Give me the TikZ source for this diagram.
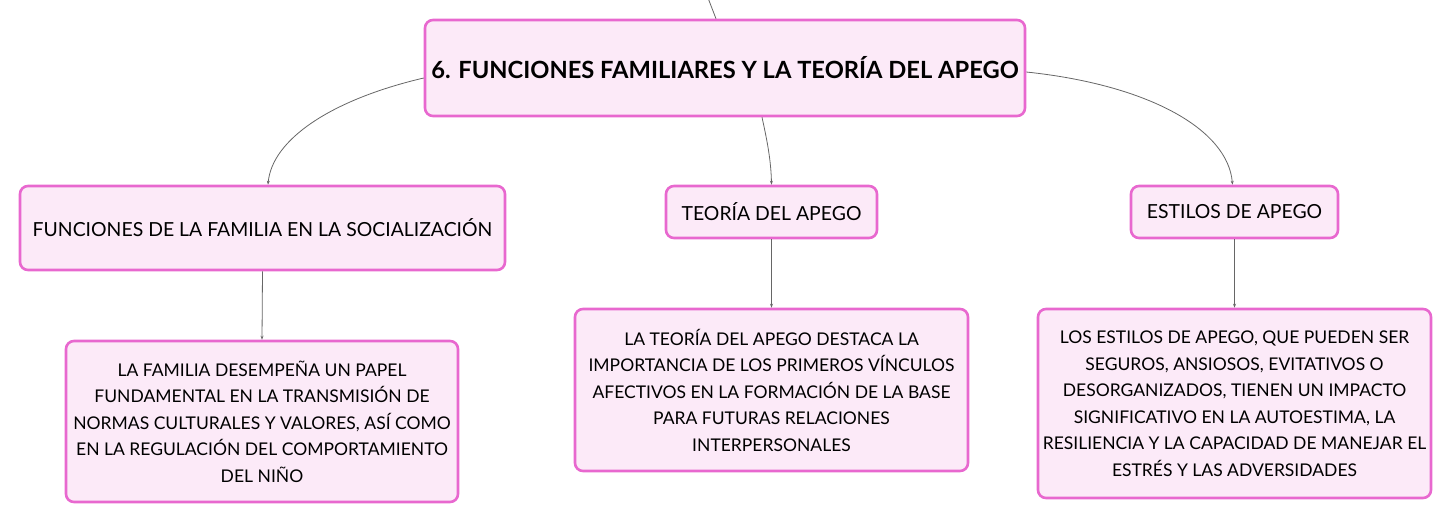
\documentclass[tikz,border=0pt]{standalone}
\usepackage{fontspec}
\setmainfont{Lato}
\usetikzlibrary{arrows.meta,calc}
\definecolor{boxborder}{HTML}{E868CF}
\definecolor{boxfill}{HTML}{FCEAF8}
\definecolor{linkgray}{HTML}{666666}
\tikzset{
  box/.style={draw=boxborder, fill=boxfill, line width=2.6pt, rounded corners=8pt, align=center, inner sep=0pt, font=\fontsize{17.5}{26.5}\selectfont},
  labelbox/.style={box, font=\fontsize{19.4}{24}\selectfont},
  titlebox/.style={box, font=\fontsize{23.7}{28}\selectfont\bfseries},
  link/.style={draw=linkgray, line width=0.8pt, -{Stealth[length=4pt,width=3pt]}},
  plainlink/.style={draw=linkgray, line width=0.8pt}
}
\begin{document}
\begin{tikzpicture}[x=1pt,y=-1pt]
\useasboundingbox (0,0) rectangle (1451,524);
\node[titlebox, minimum width=600pt, minimum height=96pt] (title) at (725,68) {6. FUNCIONES FAMILIARES Y LA TEORÍA DEL APEGO};
\node[labelbox, minimum width=485pt, minimum height=84pt] (func) at (262.5,228) {FUNCIONES DE LA FAMILIA EN LA SOCIALIZACIÓN};
\node[labelbox, minimum width=211pt, minimum height=52pt] (teoria) at (771.5,212) {TEORÍA DEL APEGO};
\node[labelbox, minimum width=207pt, minimum height=52pt] (estilos) at (1234.5,212) {ESTILOS DE APEGO};
\node[box, minimum width=392pt, minimum height=161pt] (fam) at (262,421.5) {LA FAMILIA DESEMPEÑA UN PAPEL\\FUNDAMENTAL EN LA TRANSMISIÓN DE\\NORMAS CULTURALES Y VALORES, ASÍ COMO\\EN LA REGULACIÓN DEL COMPORTAMIENTO\\DEL NIÑO};
\node[box, minimum width=393pt, minimum height=162pt] (teo2) at (771.5,390) {LA TEORÍA DEL APEGO DESTACA LA\\IMPORTANCIA DE LOS PRIMEROS VÍNCULOS\\AFECTIVOS EN LA FORMACIÓN DE LA BASE\\PARA FUTURAS RELACIONES\\INTERPERSONALES};
\node[box, minimum width=393pt, minimum height=189pt] (est2) at (1234.5,403.5) {LOS ESTILOS DE APEGO, QUE PUEDEN SER\\SEGUROS, ANSIOSOS, EVITATIVOS O\\DESORGANIZADOS, TIENEN UN IMPACTO\\SIGNIFICATIVO EN LA AUTOESTIMA, LA\\RESILIENCIA Y LA CAPACIDAD DE MANEJAR EL\\ESTRÉS Y LAS ADVERSIDADES};
\coordinate (up) at (708,-2);
\draw[plainlink] ($(title.north)+(-9,0)$) -- (up);
\draw[link] ($(title.west)+(0,10)$) .. controls (330,100) and (272,140) .. ($(func.north)+(5.5,0)$);
\draw[link] ($(title.south)+(37,0)$) .. controls (767,140) and (771,160) .. (teoria.north);
\draw[link] ($(title.east)+(0,4)$) .. controls (1150,85) and (1228,130) .. ($(estilos.north)+(-2,0)$);
\draw[link] (func.south) -- (fam.north);
\draw[link] (teoria.south) -- (teo2.north);
\draw[link] (estilos.south) -- (est2.north);
\end{tikzpicture}
\end{document}
